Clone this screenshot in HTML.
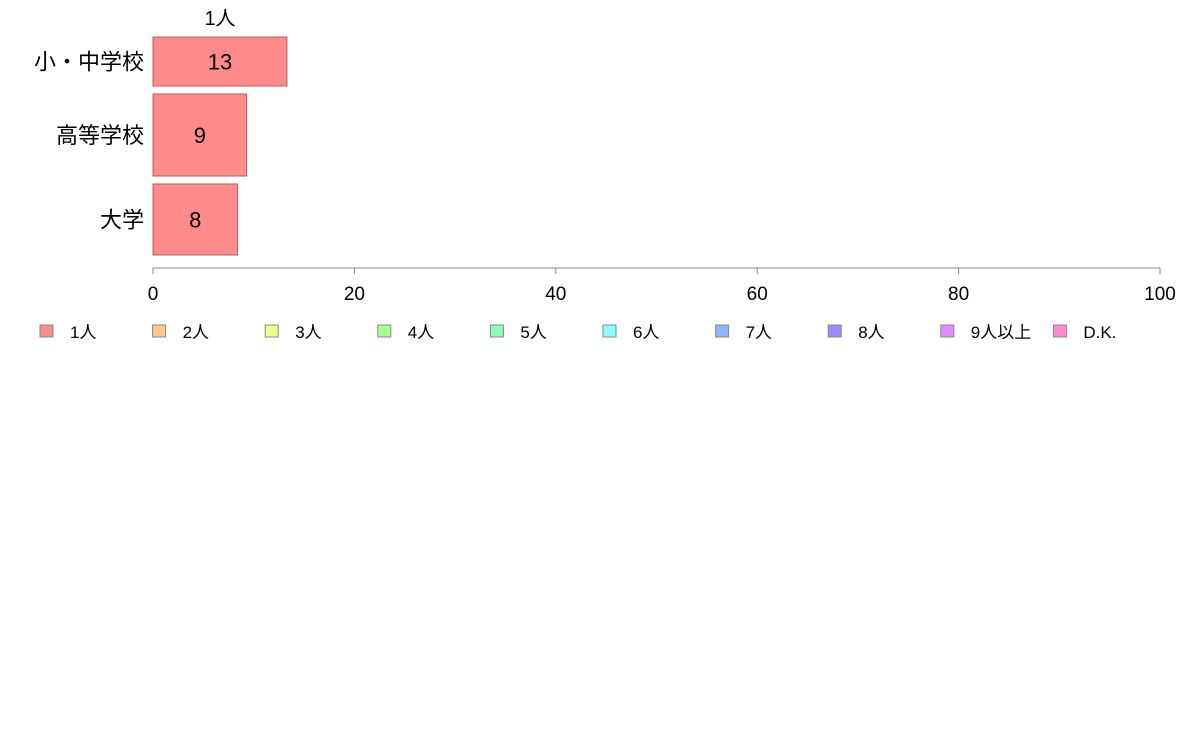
<!DOCTYPE html>
<html><head><meta charset="utf-8"><style>
body{margin:0;background:#fff;width:1188px;height:736px;overflow:hidden;font-family:"Liberation Sans","Noto Sans CJK JP",sans-serif}
</style></head><body>
<svg id="chart" width="1188" height="736" xmlns="http://www.w3.org/2000/svg" font-family="Liberation Sans, Noto Sans CJK JP, sans-serif"></svg>
<script>
const categories=["小・中学校","高等学校","大学"];
const values=[13.3,9.3,8.4];
const ticks=[0,20,40,60,80,100];
const legendLabels=["1人","2人","3人","4人","5人","6人","7人","8人","9人以上","D.K."];
const colors=["#ff8a8a","#ffc88a","#f0ff8a","#a6ff8a","#8affb8","#8affff","#8ab8ff","#9a8aff","#e88aff","#ff8ad0"];
const bandTop=[37,94,184], bandBottom=[86,176,255];
const svg=document.getElementById('chart');
const NS="http://www.w3.org/2000/svg";
const x0=153,x1=1160,axisY=268;
const xs=v=>x0+(v/100)*(x1-x0);
function mk(t,a,txt){const e=document.createElementNS(NS,t);for(const k in a)e.setAttribute(k,a[k]);if(txt!==undefined)e.textContent=txt;svg.appendChild(e);return e;}
let t=mk('text',{x:220,y:25,'font-size':20,'text-anchor':'middle',fill:'#000'},"1人");


categories.forEach((c,i)=>{
 const r=mk('rect',{x:x0,y:bandTop[i],width:xs(values[i])-x0,height:bandBottom[i]-bandTop[i],fill:colors[0],stroke:'#b06060','stroke-width':1});
 
 
 const cy=(bandTop[i]+bandBottom[i])/2;
 const v=mk('text',{x:(x0+xs(values[i]))/2,y:cy+8,'font-size':22,'text-anchor':'middle',fill:'#000'},Math.round(values[i]));
 
 
 const l=mk('text',{x:144,y:cy+8,'font-size':22,'text-anchor':'end',fill:'#000'},c);
 
 
});
const ax=mk('line',{x1:x0,y1:axisY,x2:x1,y2:axisY,stroke:'#888','stroke-width':1});


ticks.forEach(tv=>{
 const tk=mk('line',{x1:xs(tv),y1:axisY,x2:xs(tv),y2:axisY+6,stroke:'#888'});
 
 
 const tl=mk('text',{x:xs(tv),y:300,'font-size':19,'text-anchor':'middle',fill:'#000'},tv);
 
 
});
legendLabels.forEach((lb,i)=>{
 const lx=40+i*112.6;
 const s=mk('rect',{x:lx,y:325,width:13,height:12,fill:colors[i],stroke:'#888','stroke-width':1});
 
 
 const lt=mk('text',{x:lx+30,y:338,'font-size':17,fill:'#000'},lb);
 
 
});
</script>
</body></html>
